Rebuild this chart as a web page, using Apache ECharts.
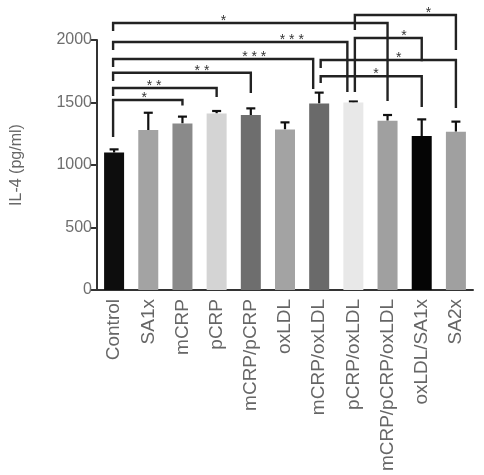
<!DOCTYPE html>
<html>
<head>
<meta charset="utf-8">
<script src="https://cdn.jsdelivr.net/npm/echarts@6/dist/echarts.min.js"></script>
<style>
html,body{margin:0;padding:0;background:#fff;}
#chart{width:484px;height:475px;}
</style>
</head>
<body>
<div id="chart"></div>
<script>
// groups and IL-4 values (pg/ml)
var groups = ['Control', 'SA1x', 'mCRP', 'pCRP', 'mCRP/pCRP', 'oxLDL', 'mCRP/oxLDL', 'pCRP/oxLDL', 'mCRP/pCRP/oxLDL', 'oxLDL/SA1x', 'SA2x'];
var means = [1100, 1280, 1333, 1413, 1400, 1285, 1493, 1500, 1355, 1232, 1267];
var errors = [25, 138, 54, 19, 53, 56, 86, 8, 45, 133, 80];
var barColors = ['#0d0d0d', '#a3a3a3', '#8a8a8a', '#d4d4d4', '#6e6e6e', '#a3a3a3', '#6a6a6a', '#e8e8e8', '#a0a0a0', '#050505', '#a0a0a0'];

// significance brackets: from group, to group, bracket height, leg ends, star position
var bFrom = [0, 0, 0, 0, 0, 0, 7, 7, 6, 6];
var bTo = [2, 3, 4, 6, 7, 8, 10, 9, 10, 9];
var bHeight = [1520, 1616, 1738, 1848, 1984, 2136, 2200, 2016, 1840, 1710];
var bLeftEnd = [1224, 1552, 1672, 1784, 1920, 2072, 2080, 1584, 1776, 1656];
var bRightEnd = [1476, 1544, 1576, 1608, 1584, 1512, 1920, 1830, 1456, 1464];
var bStarAt = [0.88, 1.17, 2.57, 4.1, 5.2, 3.2, 9.2, 8.48, 8.33, 7.66];
var bLabel = ['*', '* *', '* *', '* * *', '* * *', '*', '*', '*', '*', '*'];

var chart = echarts.init(document.getElementById('chart'));

var errData = means.map(function (m, i) { return [i, m, m + errors[i]]; });
var bracketData = bFrom.map(function (f, i) { return [f, bTo[i], bHeight[i]]; });

// bars that both receive and start brackets get their legs pulled apart a little
function isSource(i) { return i !== 0 && bFrom.indexOf(i) >= 0; }

chart.setOption({
  animation: false,
  grid: { left: 97, right: 11, top: 40, bottom: 185 },
  xAxis: {
    type: 'category',
    data: groups,
    axisLine: { lineStyle: { color: '#333', width: 2 } },
    axisTick: { alignWithLabel: true, length: 6, lineStyle: { color: '#333', width: 2 } },
    axisLabel: { rotate: 90, fontSize: 19, color: '#666', margin: 9, fontFamily: 'Liberation Sans, Arial, sans-serif' }
  },
  yAxis: {
    type: 'value',
    min: 0, max: 2000, interval: 500,
    name: 'IL-4 (pg/ml)',
    nameLocation: 'middle',
    nameGap: 72,
    nameTextStyle: { fontSize: 16, color: '#666', fontFamily: 'Liberation Sans, Arial, sans-serif' },
    axisLine: { show: true, lineStyle: { color: '#333', width: 2 } },
    axisTick: { show: true, length: 7, lineStyle: { color: '#333', width: 2 } },
    axisLabel: {
      fontSize: 16, color: '#6e6e6e', margin: 5, fontFamily: 'Liberation Sans, Arial, sans-serif',
      formatter: function (v) { return String(v); }
    },
    splitLine: { show: false }
  },
  series: [
    {
      type: 'bar',
      barWidth: 20,
      data: means.map(function (m, i) { return { value: m, itemStyle: { color: barColors[i] } }; })
    },
    {
      type: 'custom',
      clip: false,
      data: errData,
      renderItem: function (params, api) {
        var base = api.coord([api.value(0), api.value(1)]);
        var top = api.coord([api.value(0), api.value(2)]);
        var st = { stroke: '#111', lineWidth: 2.2 };
        return {
          type: 'group',
          children: [
            { type: 'line', shape: { x1: base[0], y1: base[1], x2: top[0], y2: top[1] }, style: st },
            { type: 'line', shape: { x1: top[0] - 4.5, y1: top[1], x2: top[0] + 4.5, y2: top[1] }, style: st }
          ]
        };
      }
    },
    {
      type: 'custom',
      clip: false,
      data: bracketData,
      renderItem: function (params, api) {
        var i = params.dataIndex;
        var f = bFrom[i], t = bTo[i];
        var band = api.size([1, 0])[0];
        var x0 = api.coord([f, 0])[0] - 1 + (isSource(f) ? 2.5 : 0);
        var x1 = api.coord([t, 0])[0] + (isSource(t) ? -6 : 0);
        var y = api.coord([f, bHeight[i]])[1];
        var yl = api.coord([f, bLeftEnd[i]])[1];
        var yr = api.coord([t, bRightEnd[i]])[1];
        var sx = api.coord([0, 0])[0] + bStarAt[i] * band;
        var st = { stroke: '#222', lineWidth: 2.4, fill: null, lineJoin: 'miter' };
        return {
          type: 'group',
          children: [
            { type: 'polyline', shape: { points: [[x0, yl], [x0, y], [x1, y], [x1, yr]] }, style: st },
            {
              type: 'text',
              style: {
                text: bLabel[i], x: sx, y: y + 5,
                align: 'center', verticalAlign: 'bottom',
                fill: '#333', fontSize: 14, fontFamily: 'Liberation Sans, Arial, sans-serif'
              }
            }
          ]
        };
      }
    }
  ]
});
</script>
</body>
</html>
